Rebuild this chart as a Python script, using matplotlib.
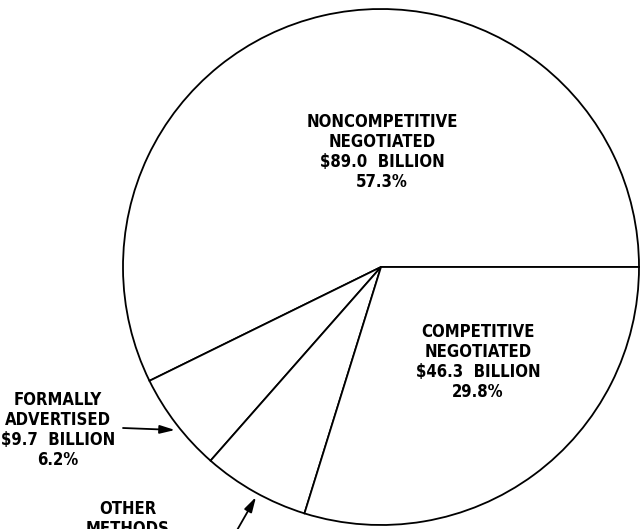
import matplotlib
matplotlib.use("Agg")
import matplotlib.pyplot as plt

# Data (billions of dollars)
categories = ["NONCOMPETITIVE\nNEGOTIATED", "FORMALLY\nADVERTISED", "OTHER\nMETHODS", "COMPETITIVE\nNEGOTIATED"]
values = [89.0, 9.7, 10.4, 46.3]
amount_labels = ["$89.0  BILLION", "$9.7  BILLION", None, "$46.3  BILLION"]
pct_labels = ["57.3%", "6.2%", None, "29.8%"]

W, H = 642, 529
fig = plt.figure(figsize=(W / 100, H / 100), dpi=100)
ax = fig.add_axes([0, 0, 1, 1])
ax.set_xlim(0, W)
ax.set_ylim(0, H)
ax.set_aspect("equal")
ax.axis("off")

def py(y):
    return H - y

cx, cy, r = 381, py(267), 258
ax.pie(values, startangle=0, counterclock=True, center=(cx, cy), radius=r,
       colors=["white"] * 4,
       wedgeprops=dict(edgecolor="black", linewidth=1.3))
ax.set_xlim(0, W)
ax.set_ylim(0, H)

font = dict(family=["DejaVu Sans"], stretch="condensed", weight="bold",
            fontsize=12, ha="center", va="center", linespacing=1.15)

def label(i, x, y):
    parts = [categories[i]]
    if amount_labels[i]:
        parts.append(amount_labels[i])
    if pct_labels[i]:
        parts.append(pct_labels[i])
    ax.text(x, py(y), "\n".join(parts), **font)

label(0, 382, 152)
label(3, 478, 362)
label(1, 58, 430)
label(2, 128, 519)

arrow = dict(arrowstyle="-|>,head_length=0.9,head_width=0.25", color="black", lw=1.3,
             shrinkA=0, shrinkB=0)
ax.annotate("", xy=(175, py(430)), xytext=(123, py(428)), arrowprops=arrow)
ax.annotate("", xy=(256, py(497)), xytext=(236, py(532)), arrowprops=arrow)

fig.savefig("out.png", dpi=100, facecolor="white")
